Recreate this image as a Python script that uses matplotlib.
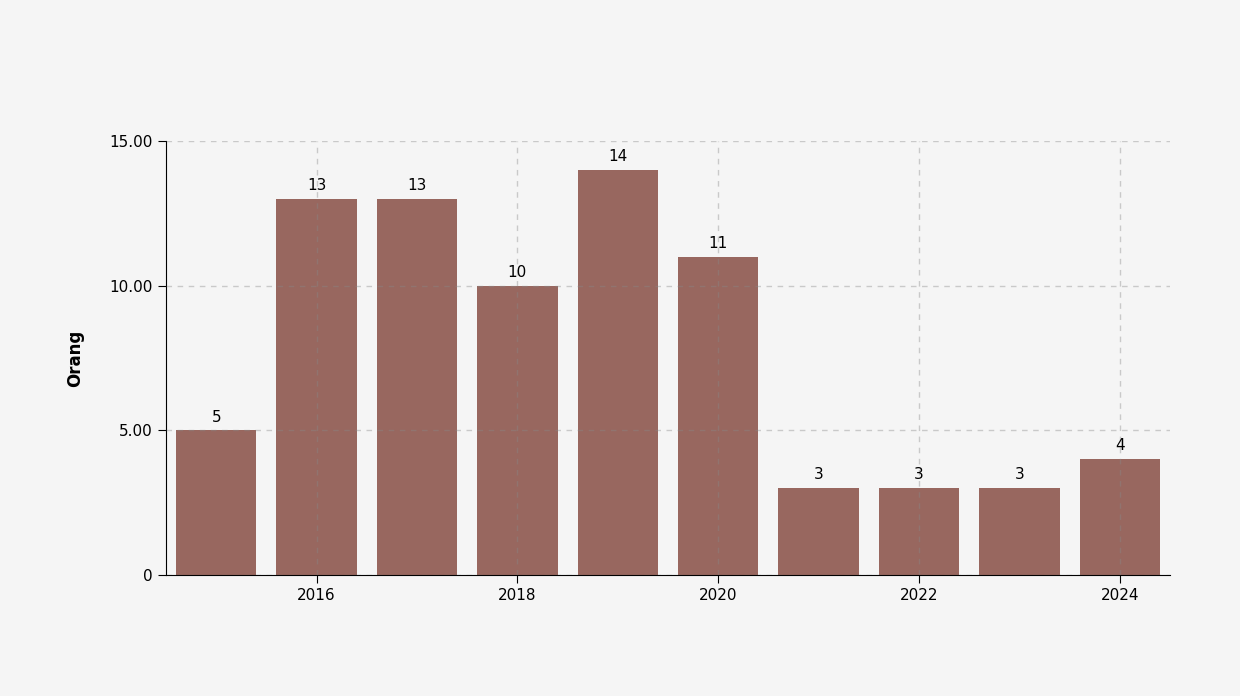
import matplotlib.pyplot as plt

years = [2015, 2016, 2017, 2018, 2019, 2020, 2021, 2022, 2023, 2024]
counts = [5, 13, 13, 10, 14, 11, 3, 3, 3, 4]
x_ticks = [2016, 2018, 2020, 2022, 2024]
y_ticks = [0, 5, 10, 15]
y_labels = ["0", "5.00", "10.00", "15.00"]

bg = "#f5f5f5"
fig = plt.figure(figsize=(12.4, 6.96), dpi=100, facecolor=bg)
ax = fig.add_axes([0.1339, 0.1739, 0.8096, 0.6236], facecolor=bg)

bars = ax.bar(years, counts, width=0.8, color="#98675f", zorder=1)
for x, v in zip(years, counts):
    ax.text(x, v + 0.2, str(v), ha="center", va="bottom", fontsize=11)

ax.set_xlim(2014.5, 2024.5)
ax.set_ylim(0, 15)
ax.set_xticks(x_ticks)
ax.set_yticks(y_ticks)
ax.set_yticklabels(y_labels)
ax.tick_params(labelsize=11, length=6)
ax.grid(True, ls=(0, (4, 4)), color="#888888", alpha=0.4, lw=1, zorder=3)
ax.set_axisbelow(False)
for s in ["top", "right"]:
    ax.spines[s].set_visible(False)
ax.set_ylabel("Orang", fontsize=12, fontweight="bold", labelpad=18)

fig.savefig("out.png", dpi=100, facecolor=bg)
